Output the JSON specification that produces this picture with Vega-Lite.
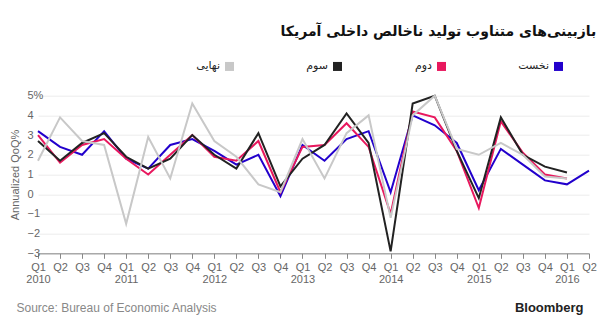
{
  "$schema": "https://vega.github.io/schema/vega-lite/v6.json",
  "width": 551,
  "height": 157.6,
  "autosize": {"type": "none"},
  "padding": {"left": 38, "top": 95.7, "right": 21, "bottom": 68.7},
  "background": "white",
  "title": {
    "text": "بازبینی‌های متناوب تولید ناخالص داخلی آمریکا",
    "anchor": "end",
    "font": "DejaVu Sans",
    "fontSize": 14,
    "fontWeight": "bold",
    "color": "#111111",
    "offset": 22
  },
  "config": {
    "view": {"stroke": null},
    "font": "Liberation Sans"
  },
  "data": {
    "values": [
      {"t": "2010 Q1", "s": "نخست", "v": 3.2}, {"t": "2010 Q2", "s": "نخست", "v": 2.4}, {"t": "2010 Q3", "s": "نخست", "v": 2.0}, {"t": "2010 Q4", "s": "نخست", "v": 3.2},
      {"t": "2011 Q1", "s": "نخست", "v": 1.8}, {"t": "2011 Q2", "s": "نخست", "v": 1.3}, {"t": "2011 Q3", "s": "نخست", "v": 2.5}, {"t": "2011 Q4", "s": "نخست", "v": 2.8},
      {"t": "2012 Q1", "s": "نخست", "v": 2.2}, {"t": "2012 Q2", "s": "نخست", "v": 1.5}, {"t": "2012 Q3", "s": "نخست", "v": 2.0}, {"t": "2012 Q4", "s": "نخست", "v": -0.1},
      {"t": "2013 Q1", "s": "نخست", "v": 2.5}, {"t": "2013 Q2", "s": "نخست", "v": 1.7}, {"t": "2013 Q3", "s": "نخست", "v": 2.8}, {"t": "2013 Q4", "s": "نخست", "v": 3.2},
      {"t": "2014 Q1", "s": "نخست", "v": 0.1}, {"t": "2014 Q2", "s": "نخست", "v": 4.0}, {"t": "2014 Q3", "s": "نخست", "v": 3.5}, {"t": "2014 Q4", "s": "نخست", "v": 2.6},
      {"t": "2015 Q1", "s": "نخست", "v": 0.2}, {"t": "2015 Q2", "s": "نخست", "v": 2.3}, {"t": "2015 Q3", "s": "نخست", "v": 1.5}, {"t": "2015 Q4", "s": "نخست", "v": 0.7},
      {"t": "2016 Q1", "s": "نخست", "v": 0.5}, {"t": "2016 Q2", "s": "نخست", "v": 1.2},

      {"t": "2010 Q1", "s": "دوم", "v": 3.0}, {"t": "2010 Q2", "s": "دوم", "v": 1.6}, {"t": "2010 Q3", "s": "دوم", "v": 2.5}, {"t": "2010 Q4", "s": "دوم", "v": 2.8},
      {"t": "2011 Q1", "s": "دوم", "v": 1.8}, {"t": "2011 Q2", "s": "دوم", "v": 1.0}, {"t": "2011 Q3", "s": "دوم", "v": 2.0}, {"t": "2011 Q4", "s": "دوم", "v": 3.0},
      {"t": "2012 Q1", "s": "دوم", "v": 1.9}, {"t": "2012 Q2", "s": "دوم", "v": 1.7}, {"t": "2012 Q3", "s": "دوم", "v": 2.7}, {"t": "2012 Q4", "s": "دوم", "v": 0.1},
      {"t": "2013 Q1", "s": "دوم", "v": 2.4}, {"t": "2013 Q2", "s": "دوم", "v": 2.5}, {"t": "2013 Q3", "s": "دوم", "v": 3.6}, {"t": "2013 Q4", "s": "دوم", "v": 2.4},
      {"t": "2014 Q1", "s": "دوم", "v": -1.0}, {"t": "2014 Q2", "s": "دوم", "v": 4.2}, {"t": "2014 Q3", "s": "دوم", "v": 3.9}, {"t": "2014 Q4", "s": "دوم", "v": 2.2},
      {"t": "2015 Q1", "s": "دوم", "v": -0.7}, {"t": "2015 Q2", "s": "دوم", "v": 3.7}, {"t": "2015 Q3", "s": "دوم", "v": 2.1}, {"t": "2015 Q4", "s": "دوم", "v": 1.0},
      {"t": "2016 Q1", "s": "دوم", "v": 0.8},

      {"t": "2010 Q1", "s": "سوم", "v": 2.7}, {"t": "2010 Q2", "s": "سوم", "v": 1.7}, {"t": "2010 Q3", "s": "سوم", "v": 2.6}, {"t": "2010 Q4", "s": "سوم", "v": 3.1},
      {"t": "2011 Q1", "s": "سوم", "v": 1.9}, {"t": "2011 Q2", "s": "سوم", "v": 1.3}, {"t": "2011 Q3", "s": "سوم", "v": 1.8}, {"t": "2011 Q4", "s": "سوم", "v": 3.0},
      {"t": "2012 Q1", "s": "سوم", "v": 2.0}, {"t": "2012 Q2", "s": "سوم", "v": 1.3}, {"t": "2012 Q3", "s": "سوم", "v": 3.1}, {"t": "2012 Q4", "s": "سوم", "v": 0.4},
      {"t": "2013 Q1", "s": "سوم", "v": 1.8}, {"t": "2013 Q2", "s": "سوم", "v": 2.5}, {"t": "2013 Q3", "s": "سوم", "v": 4.1}, {"t": "2013 Q4", "s": "سوم", "v": 2.6},
      {"t": "2014 Q1", "s": "سوم", "v": -2.9}, {"t": "2014 Q2", "s": "سوم", "v": 4.6}, {"t": "2014 Q3", "s": "سوم", "v": 5.0}, {"t": "2014 Q4", "s": "سوم", "v": 2.2},
      {"t": "2015 Q1", "s": "سوم", "v": -0.2}, {"t": "2015 Q2", "s": "سوم", "v": 3.9}, {"t": "2015 Q3", "s": "سوم", "v": 2.0}, {"t": "2015 Q4", "s": "سوم", "v": 1.4},
      {"t": "2016 Q1", "s": "سوم", "v": 1.1},

      {"t": "2010 Q1", "s": "نهایی", "v": 1.7}, {"t": "2010 Q2", "s": "نهایی", "v": 3.9}, {"t": "2010 Q3", "s": "نهایی", "v": 2.7}, {"t": "2010 Q4", "s": "نهایی", "v": 2.5},
      {"t": "2011 Q1", "s": "نهایی", "v": -1.5}, {"t": "2011 Q2", "s": "نهایی", "v": 2.9}, {"t": "2011 Q3", "s": "نهایی", "v": 0.8}, {"t": "2011 Q4", "s": "نهایی", "v": 4.6},
      {"t": "2012 Q1", "s": "نهایی", "v": 2.7}, {"t": "2012 Q2", "s": "نهایی", "v": 1.9}, {"t": "2012 Q3", "s": "نهایی", "v": 0.5}, {"t": "2012 Q4", "s": "نهایی", "v": 0.1},
      {"t": "2013 Q1", "s": "نهایی", "v": 2.8}, {"t": "2013 Q2", "s": "نهایی", "v": 0.8}, {"t": "2013 Q3", "s": "نهایی", "v": 3.1}, {"t": "2013 Q4", "s": "نهایی", "v": 4.0},
      {"t": "2014 Q1", "s": "نهایی", "v": -1.2}, {"t": "2014 Q2", "s": "نهایی", "v": 4.0}, {"t": "2014 Q3", "s": "نهایی", "v": 5.0}, {"t": "2014 Q4", "s": "نهایی", "v": 2.3},
      {"t": "2015 Q1", "s": "نهایی", "v": 2.0}, {"t": "2015 Q2", "s": "نهایی", "v": 2.6}, {"t": "2015 Q3", "s": "نهایی", "v": 2.0}, {"t": "2015 Q4", "s": "نهایی", "v": 0.9},
      {"t": "2016 Q1", "s": "نهایی", "v": 0.8}
    ]
  },
  "resolve": {"axis": {"y": "independent"}},
  "layer": [
    {
      "mark": {"type": "line", "strokeWidth": 2},
      "encoding": {
        "x": {
          "field": "t", "type": "ordinal", "sort": null,
          "scale": {"type": "point", "padding": 0},
          "axis": {
            "labelExpr": "[substring(datum.value, 5, 7), substring(datum.value, 5, 7) == 'Q1' ? substring(datum.value, 0, 4) : '']",
            "labelAngle": 0, "labelFontSize": 11, "labelColor": "#666666", "labelLineHeight": 12,
            "labelOverlap": false, "labelPadding": 3,
            "tickSize": 5, "tickColor": "#888888", "domainColor": "#888888",
            "grid": false,
            "title": "Source: Bureau of Economic Analysis",
            "titleFontSize": 12, "titleFontWeight": "normal", "titleColor": "#888888",
            "titleAlign": "left", "titleBaseline": "middle",
            "titleX": -22, "titleY": 54
          }
        },
        "y": {
          "field": "v", "type": "quantitative",
          "scale": {"domain": [-3, 5], "nice": false, "zero": false},
          "axis": {
            "values": [-3, -2, -1, 0, 1, 2, 3, 4, 5],
            "labelExpr": "datum.value == 5 ? '5%' : datum.label",
            "labelFontSize": 11, "labelColor": "#666666", "labelPadding": 11, "labelAlign": "left",
            "ticks": false, "domain": false,
            "gridColor": "#ececec", "gridWidth": 1,
            "title": "Annualized QoQ%",
            "titleFontSize": 11, "titleFontWeight": "normal", "titleColor": "#666666",
            "titlePadding": 7
          }
        },
        "color": {
          "field": "s", "type": "nominal",
          "scale": {
            "domain": ["نهایی", "سوم", "دوم", "نخست"],
            "range": ["#c8c8c8", "#222222", "#e8185e", "#2200cc"]
          },
          "legend": {
            "orient": "none", "legendX": 186, "legendY": -35,
            "direction": "horizontal", "title": null, "padding": 0,
            "symbolType": "square", "symbolSize": 81,
            "labelAlign": "right", "labelOffset": -15,
            "columnPadding": 72,
            "labelFont": "DejaVu Sans", "labelFontSize": 11, "labelColor": "#222222",
            "encode": {
              "symbols": {
                "update": {
                  "fill": {"scale": "color", "field": "value"},
                  "fillOpacity": {"value": 1},
                  "strokeWidth": {"value": 0}
                }
              }
            }
          }
        }
      }
    },
    {
      "mark": {"type": "line", "opacity": 0},
      "encoding": {
        "x": {"field": "t", "type": "ordinal", "sort": null},
        "y": {
          "field": "v", "type": "quantitative",
          "axis": {
            "orient": "right", "labels": false, "ticks": false, "domain": false, "grid": false,
            "title": "Bloomberg", "titleAngle": 0, "titleFontSize": 13, "titleFontWeight": "bold",
            "titleColor": "#222222", "titleAlign": "right", "titleBaseline": "middle",
            "titleX": -6, "titleY": 212
          }
        }
      }
    }
  ]
}
